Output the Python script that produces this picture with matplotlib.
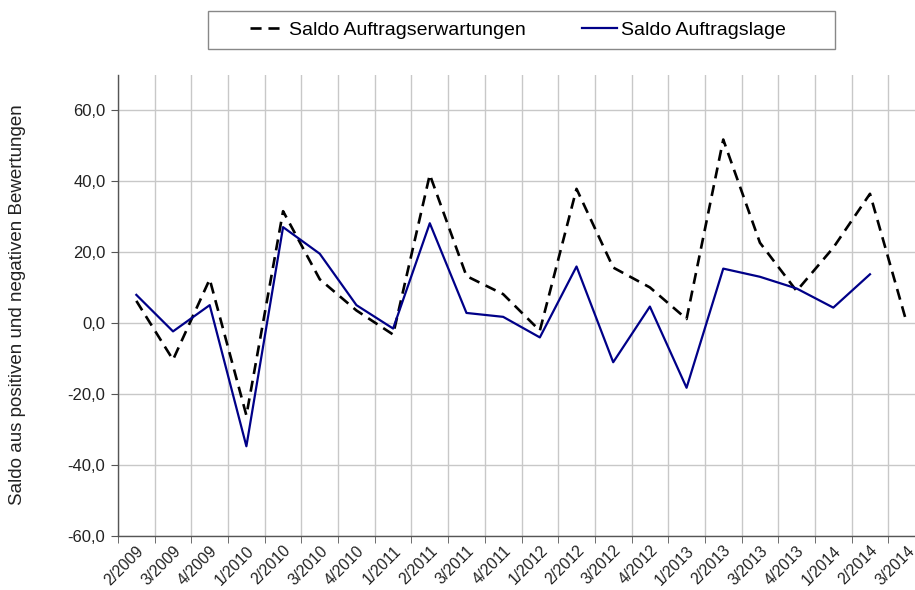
import matplotlib
matplotlib.use("Agg")
import matplotlib.pyplot as plt
from matplotlib.ticker import FuncFormatter, FixedLocator
from matplotlib.patches import Rectangle
from matplotlib.transforms import ScaledTranslation
import numpy as np

plt.rcParams['font.family'] = ['Liberation Sans', 'DejaVu Sans']

categories = ["2/2009", "3/2009", "4/2009", "1/2010", "2/2010", "3/2010", "4/2010",
              "1/2011", "2/2011", "3/2011", "4/2011", "1/2012", "2/2012", "3/2012",
              "4/2012", "1/2013", "2/2013", "3/2013", "4/2013", "1/2014", "2/2014", "3/2014"]

erwartungen = [6.3, -10.3, 12.4, -26.0, 31.6, 12.4, 3.6, -3.2, 41.9, 13.3, 8.2, -2.1,
               37.9, 15.7, 10.1, 1.2, 51.8, 22.7, 9.1, 21.3, 36.5, 0.2]
auftragslage = [8.0, -2.3, 5.1, -34.7, 27.1, 19.6, 5.1, -1.5, 28.2, 2.9, 1.8, -4.0,
                16.0, -11.0, 4.7, -18.2, 15.4, 13.1, 9.8, 4.4, 13.8, np.nan]

yticks = [-60, -40, -20, 0, 20, 40, 60]

W, H = 915, 590
fig = plt.figure(figsize=(W / 100, H / 100), dpi=100)
ax = fig.add_axes([118 / W, 1 - 536 / H, 807 / W, (536 - 75) / H])

x = np.arange(len(categories))
ax.plot(x, erwartungen, color='black', lw=1.9, dashes=(4.2, 2.6),
        label='Saldo Auftragserwartungen')
ax.plot(x, auftragslage, color='#000088', lw=1.6, label='Saldo Auftragslage')

ax.set_xlim(-0.5, len(categories) - 0.5)
ax.set_ylim(-60, 70)
ax.set_yticks(yticks)
ax.yaxis.set_major_formatter(FuncFormatter(lambda v, p: f"{v:.1f}".replace('.', ',')))

ax.set_xticks(x)
ax.set_xticklabels(categories, rotation=45, ha='right', va='top', rotation_mode='anchor',
                   fontsize=11.3)
off = ScaledTranslation(-3 / 100, 0, fig.dpi_scale_trans)
for lab in ax.get_xticklabels():
    lab.set_transform(lab.get_transform() + off)
ax.tick_params(axis='x', which='major', length=0, pad=5)
ax.xaxis.set_minor_locator(FixedLocator(np.arange(-0.5, len(categories), 1.0)))
ax.tick_params(axis='x', which='minor', length=5, color='#555555', direction='out')
ax.tick_params(axis='y', length=5, color='#555555', direction='out', pad=4, labelsize=12)
ax.tick_params(labelcolor='#222222')

ax.grid(axis='y', which='major', color='#c8c8c8', lw=1.0)
ax.grid(axis='x', which='minor', color='#c8c8c8', lw=1.0)
ax.set_axisbelow(True)

for s in ['top', 'right']:
    ax.spines[s].set_visible(False)
for s in ['left', 'bottom']:
    ax.spines[s].set_color('#555555')
    ax.spines[s].set_linewidth(1.0)

fig.text(18 / W, 1 - 305 / H, 'Saldo aus positiven und negativen Bewertungen',
         rotation=90, ha='center', va='center', fontsize=13.5, color='#222222')

# legend frame
fig.patches.append(Rectangle((208 / W, 1 - 49 / H), (835 - 208) / W, 38 / H,
                             transform=fig.transFigure, facecolor='white',
                             edgecolor='#888888', lw=1.0, zorder=0))
leg = fig.legend(loc='center left', bbox_to_anchor=(250 / W, 1 - 30 / H), ncol=2,
                 fontsize=14, frameon=False,
                 handlelength=1.8, handletextpad=0.2, columnspacing=2.9,
                 borderpad=0, borderaxespad=0)

fig.savefig('out.png', dpi=100)
